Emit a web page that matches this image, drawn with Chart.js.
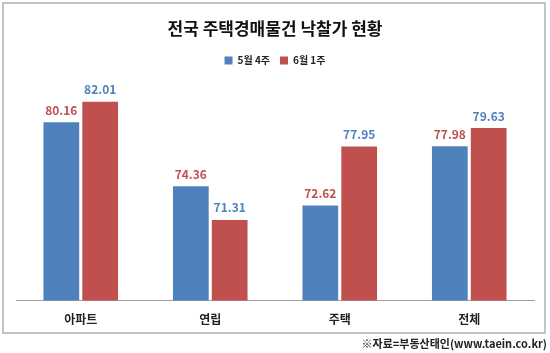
<!DOCTYPE html>
<html>
<head>
<meta charset="utf-8">
<script src="https://cdn.jsdelivr.net/npm/chart.js@4/dist/chart.umd.min.js"></script>
<style>
  body { margin: 0; background: #fff; }
  #wrap { width: 550px; height: 353px; }
</style>
</head>
<body>
<div id="wrap"><canvas id="myChart" width="550" height="353"></canvas></div>
<script>
  // data
  var categories = ["아파트", "연립", "주택", "전체"];
  var seriesNames = ["5월 4주", "6월 1주"];
  var week4May = [80.16, 74.36, 72.62, 77.98];
  var week1Jun = [82.01, 71.31, 77.95, 79.63];
  var titleText = "전국 주택경매물건 낙찰가 현황";
  var sourceText = "※자료=부동산태인(www.taein.co.kr)";

  var blue = "#4f81bd";
  var red = "#c0504d";
  var fontName = "'Noto Sans CJK KR', 'Noto Sans', sans-serif";

  // frame + source note
  var framePlugin = {
    id: 'frame',
    beforeDraw: function(chart) {
      var c = chart.ctx;
      c.save();
      c.fillStyle = "#fff";
      c.fillRect(0, 0, chart.width, chart.height);
      c.strokeStyle = "#c3c3c3";
      c.lineWidth = 2;
      c.strokeRect(3, 3, 542, 330);
      c.fillStyle = "#222";
      c.font = "bold 11px " + fontName;
      c.textAlign = "right";
      c.textBaseline = "middle";
      c.fillText(sourceText, 547, 344);
      c.restore();
    }
  };

  // value labels above bars (colours are swapped in the original)
  var labelPlugin = {
    id: 'valueLabels',
    afterDatasetsDraw: function(chart) {
      var c = chart.ctx;
      var labelColors = [red, blue];
      c.save();
      c.font = "bold 12px " + fontName;
      c.textAlign = "center";
      c.textBaseline = "bottom";
      chart.data.datasets.forEach(function(ds, i) {
        var meta = chart.getDatasetMeta(i);
        c.fillStyle = labelColors[i];
        meta.data.forEach(function(bar, j) {
          c.fillText(ds.data[j].toFixed(2), bar.x, bar.y - 6);
        });
      });
      c.restore();
    }
  };

  var ctx = document.getElementById("myChart").getContext('2d');
  var myChart = new Chart(ctx, {
    type: 'bar',
    data: {
      labels: categories,
      datasets: [{
        label: seriesNames[0],
        data: week4May,
        backgroundColor: blue,
        categoryPercentage: 0.6,
        barPercentage: 0.92
      },
      {
        label: seriesNames[1],
        data: week1Jun,
        backgroundColor: red,
        categoryPercentage: 0.6,
        barPercentage: 0.92
      }]
    },
    options: {
      responsive: false,
      animation: false,
      layout: { padding: { left: 16, right: 16, top: 0, bottom: 14 } },
      plugins: {
        title: {
          display: true,
          text: titleText,
          color: "#111",
          font: { family: fontName, size: 17, weight: 'bold' },
          padding: { top: 18, bottom: 7 }
        },
        legend: {
          display: true,
          labels: {
            boxWidth: 8,
            boxHeight: 8,
            padding: 10,
            color: "#222",
            font: { family: fontName, size: 10, weight: 'bold' }
          }
        },
        tooltip: { enabled: false }
      },
      scales: {
        x: {
          grid: { display: false, drawTicks: false },
          border: { display: true, color: "#a0a0a0", width: 1 },
          ticks: {
            padding: 12,
            color: "#222",
            font: { family: fontName, size: 12, weight: 'bold' }
          }
        },
        y: {
          display: false,
          min: 64,
          max: 84.4
        }
      }
    },
    plugins: [framePlugin, labelPlugin]
  });
</script>
</body>
</html>
